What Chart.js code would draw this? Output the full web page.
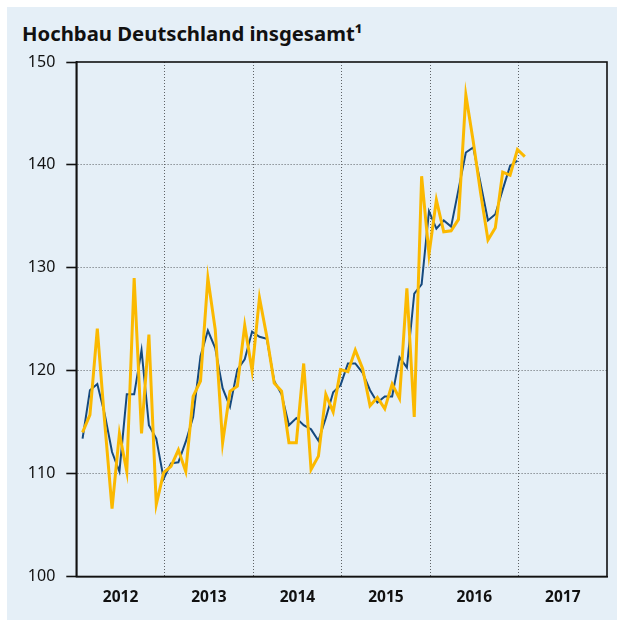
<!DOCTYPE html>
<html>
<head>
<meta charset="utf-8">
<script src="https://cdn.jsdelivr.net/npm/chart.js@4"></script>
<style>
html,body{margin:0;padding:0;background:#fff;width:625px;height:626px;overflow:hidden;}
#panel{position:absolute;left:7px;top:7px;width:610px;height:613px;background:#e5eff7;}
#title{position:absolute;left:22px;top:19px;font-family:"Noto Sans",sans-serif;font-weight:bold;font-size:20.3px;line-height:28px;color:#111;}
#wrap{position:absolute;left:0;top:0;width:625px;height:626px;}
</style>
</head>
<body>
<div id="panel"></div>
<div id="title">Hochbau Deutschland insgesamt¹</div>
<div id="wrap"><canvas id="c" width="625" height="626"></canvas></div>
<script>
const years = ["2012","2013","2014","2015","2016","2017"];
// monthly values from Jan 2012
const original = [
  114.0,115.7,124.1,115.0,106.6,113.9,110.2,129.0,113.9,123.5,107.0,110.1,
  110.7,112.3,110.2,117.5,119.0,129.0,124.0,113.0,118.0,118.5,124.4,120.0,
  127.1,123.3,118.8,118.0,113.0,113.0,120.7,110.4,111.7,117.7,116.0,120.1,
  119.9,122.0,120.2,116.6,117.4,116.3,118.7,117.3,128.0,115.5,138.9,131.3,
  136.6,133.5,133.6,134.7,146.8,142.3,137.3,132.7,133.9,139.3,139.0,141.5,
  140.8
];
const trend = [
  113.4,118.1,118.7,115.8,112.1,110.2,117.7,117.7,122.0,114.7,113.4,109.5,
  111.0,111.1,113.1,115.5,121.4,123.9,122.2,118.3,116.5,120.1,121.1,123.8,
  123.3,123.1,119.0,117.7,114.7,115.4,114.7,114.3,113.2,115.4,117.9,118.6,
  120.7,120.7,119.8,118.1,116.9,117.5,117.5,121.3,120.3,127.5,128.4,135.5,
  133.8,134.6,134.0,137.6,141.2,141.7,138.2,134.6,135.2,137.6,139.9,140.4
];
const yTicks = [100,110,120,130,140,150];

const X_MIN = -0.85, X_MAX = 71.15;
const yearBounds = [1,2,3,4,5].map(k => X_MIN + 12*k);
const yearCenters = years.map((y,k) => X_MIN + 6 + 12*k);

const toPts = arr => arr.map((v,i) => ({x:i, y:v}));

const frame = {
  id:'frame',
  afterDatasetsDraw(chart){
    const {ctx, chartArea:a} = chart;
    ctx.save();
    ctx.strokeStyle = '#111';
    ctx.lineWidth = 1.6;
    ctx.strokeRect(a.left, a.top, a.right-a.left, a.bottom-a.top);
    ctx.restore();
  }
};

new Chart(document.getElementById('c'), {
  type:'line',
  data:{
    datasets:[
      {label:'original', data:toPts(original), borderColor:'#fbb900', borderWidth:3, pointRadius:0, tension:0, order:0, borderJoinStyle:'miter'},
      {label:'trend', data:toPts(trend), borderColor:'#15497e', borderWidth:2, pointRadius:0, tension:0, order:1}
    ]
  },
  options:{
    responsive:false,
    animation:false,
    devicePixelRatio:1,
    layout:{padding:{left:0,right:18,top:62,bottom:0}},
    plugins:{legend:{display:false},tooltip:{enabled:false},title:{display:false}},
    scales:{
      x:{
        type:'linear', min:X_MIN, max:X_MAX,
        afterBuildTicks(s){
          const t = [];
          yearCenters.forEach(v=>t.push({value:v}));
          yearBounds.forEach(v=>t.push({value:v}));
          t.sort((a,b)=>a.value-b.value);
          s.ticks = t;
        },
        afterFit(s){ s.height = 49.5; },
        border:{display:true,color:'#111',width:1.6,dash:[1,2]},
        grid:{
          drawTicks:false,
          color(ctx){
            const v = ctx.tick && ctx.tick.value;
            return yearBounds.some(b=>Math.abs(b-v)<1e-6) ? '#5e6266' : 'rgba(0,0,0,0)';
          },
          lineWidth:1,
          tickBorderDash:[]
        },
        ticks:{
          autoSkip:false, maxRotation:0, padding:12,
          color:'#111',
          font:{family:'"Noto Sans", sans-serif', size:15.5, weight:'bold'},
          callback(v){
            const k = yearCenters.findIndex(c=>Math.abs(c-v)<1e-6);
            return k>=0 ? years[k] : '';
          }
        }
      },
      y:{
        min:100, max:150,
        afterBuildTicks(s){ s.ticks = yTicks.map(v=>({value:v})); },
        afterFit(s){ s.width = 76.3; },
        border:{display:true,color:'#111',width:1.6,dash:[1,2]},
        grid:{
          drawTicks:true, tickLength:10, tickColor:'#111', tickWidth:1.6, tickBorderDash:[],
          color(ctx){
            const v = ctx.tick && ctx.tick.value;
            return (v===100||v===150) ? 'rgba(0,0,0,0)' : '#5e6266';
          },
          lineWidth:1
        },
        ticks:{
          padding:11, color:'#111',
          font:{family:'"Noto Sans", sans-serif', size:16}
        }
      }
    }
  },
  plugins:[frame]
});
</script>
</body>
</html>
